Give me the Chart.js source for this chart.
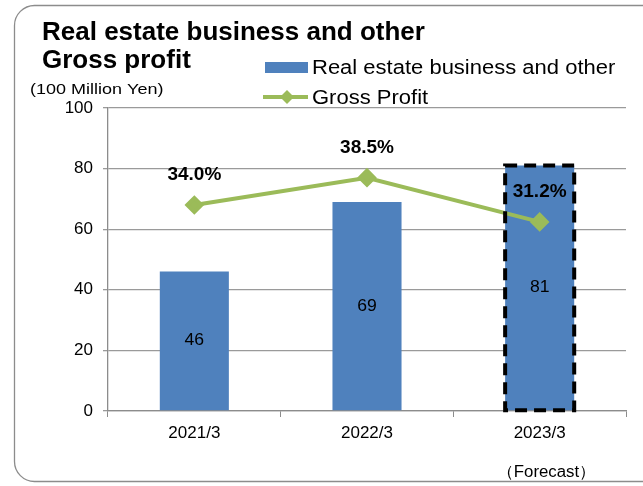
<!DOCTYPE html>
<html>
<head>
<meta charset="utf-8">
<script src="https://cdn.jsdelivr.net/npm/chart.js@4.4.1/dist/chart.umd.min.js"></script>
<style>
  html, body { margin: 0; padding: 0; background: #fff; }
  #wrap { position: relative; width: 643px; height: 486px; }
</style>
</head>
<body>
<div id="wrap"><canvas id="chart" width="643" height="486"></canvas></div>
<script>
const categories = ['2021/3', '2022/3', '2023/3'];
const salesValues = [46, 69, 81];          // 100 million yen
const marginValues = [34.0, 38.5, 31.2];   // gross profit margin, %
const yTicks = [0, 20, 40, 60, 80, 100];
const forecastIndex = 2;

const BLUE = '#4F81BD';
const GREEN = '#9BBB59';
const FONT = 'Arial, "Liberation Sans", sans-serif';
const WIDE = 1.1; // regular text is set slightly wide

// draw text stretched horizontally from its anchor
function wideText(c, text, x, y, sx) {
  c.save();
  c.translate(x, y);
  c.scale(sx, 1);
  c.fillText(text, 0, 0);
  c.restore();
}

// frame, titles, legend and footnote
const decor = {
  id: 'decor',
  beforeDraw(chart) {
    const c = chart.ctx;
    c.save();
    c.fillStyle = '#fff';
    c.fillRect(0, 0, chart.width, chart.height);
    c.strokeStyle = '#8c8c8c';
    c.lineWidth = 1.3;
    c.beginPath();
    c.roundRect(14.5, 5.5, 650, 476, 20);
    c.stroke();
    c.restore();
  },
  afterDraw(chart) {
    const c = chart.ctx;
    c.save();
    c.fillStyle = '#000';
    c.textBaseline = 'alphabetic';
    c.textAlign = 'left';
    c.font = 'bold 26px ' + FONT;
    c.fillText('Real estate business and other', 42, 40);
    c.fillText('Gross profit', 42, 68);
    c.font = '15px ' + FONT;
    wideText(c, '(100 Million Yen)', 30, 94, 1.2);
    c.font = '16px ' + FONT;
    wideText(c, '（Forecast）', 497, 477, 1.05);

    // legend
    c.fillStyle = BLUE;
    c.fillRect(265, 62, 43, 11);
    c.strokeStyle = GREEN;
    c.lineWidth = 4;
    c.beginPath();
    c.moveTo(263, 97);
    c.lineTo(308, 97);
    c.stroke();
    c.fillStyle = GREEN;
    c.beginPath();
    c.moveTo(287, 90); c.lineTo(294, 97); c.lineTo(287, 104); c.lineTo(280, 97);
    c.closePath();
    c.fill();
    c.fillStyle = '#000';
    c.font = '20px ' + FONT;
    wideText(c, 'Real estate business and other', 312, 74, WIDE);
    wideText(c, 'Gross Profit', 312, 104, WIDE);
    c.restore();
  }
};

// value labels, forecast outline
const labels = {
  id: 'labels',
  afterDatasetsDraw(chart) {
    const c = chart.ctx;
    const pts = chart.getDatasetMeta(0).data;
    const bars = chart.getDatasetMeta(1).data;
    c.save();
    c.fillStyle = '#000';
    c.textAlign = 'center';
    c.textBaseline = 'middle';
    c.font = '16px ' + FONT;
    bars.forEach((b, i) => {
      wideText(c, String(salesValues[i]), b.x, (b.y + b.base) / 2, WIDE);
    });

    const fb = bars[forecastIndex];
    c.strokeStyle = '#000';
    c.lineWidth = 4;
    c.setLineDash([12, 7]);
    c.strokeRect(fb.x - fb.width / 2, fb.y, fb.width, fb.base - fb.y);
    c.setLineDash([]);

    c.font = 'bold 19px ' + FONT;
    pts.forEach((p, i) => {
      c.fillText(marginValues[i].toFixed(1) + '%', p.x, p.y - 30);
    });
    c.restore();
  }
};

new Chart(document.getElementById('chart'), {
  data: {
    labels: categories,
    datasets: [
      {
        type: 'line',
        label: 'Gross Profit',
        data: marginValues,
        yAxisID: 'y2',
        borderColor: GREEN,
        backgroundColor: GREEN,
        borderWidth: 4,
        pointStyle: 'rectRot',
        pointRadius: 7,
        pointHoverRadius: 7,
        tension: 0,
        order: 0
      },
      {
        type: 'bar',
        label: 'Real estate business and other',
        data: salesValues,
        yAxisID: 'y',
        backgroundColor: BLUE,
        borderWidth: 0,
        barPercentage: 0.8,
        categoryPercentage: 0.5,
        order: 1
      }
    ]
  },
  options: {
    responsive: false,
    animation: false,
    layout: { padding: { left: 0, top: 108, right: 17, bottom: 0 } },
    plugins: { legend: { display: false }, tooltip: { enabled: false } },
    scales: {
      x: {
        offset: true,
        grid: { offset: true, drawOnChartArea: false, drawTicks: true, tickLength: 6, color: '#8c8c8c' },
        border: { color: '#8c8c8c', width: 1.3 },
        ticks: { color: '#000', font: { family: FONT, size: 17 }, padding: 6 },
        afterFit(s) { s.height = 75; }
      },
      y: {
        min: 0,
        max: 100,
        afterBuildTicks(s) { s.ticks = yTicks.map(v => ({ value: v })); },
        grid: { color: '#9a9a9a', lineWidth: 1.3, tickLength: 5 },
        border: { color: '#8c8c8c', width: 1.3 },
        ticks: { color: '#000', font: { family: FONT, size: 17 }, padding: 10 },
        afterFit(s) { s.width = 108; }
      },
      y2: { display: false, min: 0, max: 50 }
    }
  },
  plugins: [decor, labels]
});
</script>
</body>
</html>
